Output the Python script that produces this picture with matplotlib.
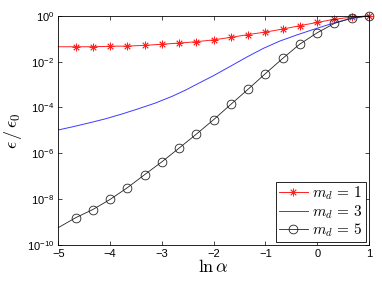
import matplotlib
matplotlib.use("Agg")
import matplotlib.pyplot as plt
import numpy as np

plt.rcParams['mathtext.fontset'] = 'cm'
plt.rcParams['font.family'] = ['Liberation Sans', 'DejaVu Sans']

# x positions (ln alpha) of sampled points
x_pts = [-5 + k / 3 for k in range(19)]
# log10 values
red_log = [-1.35, -1.35, -1.35, -1.33, -1.32, -1.29, -1.24, -1.19, -1.13, -1.05,
           -0.94, -0.82, -0.71, -0.58, -0.43, -0.29, -0.15, -0.06, 0.0]
black_log = [-9.24, -8.81, -8.45, -8.01, -7.50, -6.93, -6.37, -5.77, -5.16, -4.53,
             -3.86, -3.20, -2.52, -1.86, -1.23, -0.74, -0.33, -0.10, 0.0]
blue_x = [-5, -4.74, -4.42, -4.10, -3.78, -3.46, -3.13, -2.81, -2.55, -2.33, -2.01,
          -1.69, -1.36, -1.04, -0.72, -0.40, -0.08, 0.31, 0.63, 1]
blue_log = [-4.98, -4.85, -4.68, -4.50, -4.29, -4.06, -3.81, -3.52, -3.25, -2.99, -2.62,
            -2.22, -1.80, -1.42, -1.10, -0.84, -0.60, -0.32, -0.13, 0.0]

labels = [r'$m_d\,=\,1$', r'$m_d\,=\,3$', r'$m_d\,=\,5$']

fig = plt.figure(figsize=(3.82, 2.82), dpi=100)
ax = fig.add_axes([0.1526, 0.131, 0.8134, 0.813])

ax.plot(x_pts, 10 ** np.array(red_log), color='#ff2020', lw=0.7, marker=(8, 2, 0),
        ms=5.5, mew=0.6, markevery=range(1, 19), clip_on=False, label=labels[0])
ax.plot(blue_x, 10 ** np.array(blue_log), color='#3b3bff', lw=0.7, label=labels[1])
ax.plot(x_pts, 10 ** np.array(black_log), color='#222222', lw=0.6, marker='o',
        ms=6.3, mfc='none', mew=0.6, markevery=range(1, 19), clip_on=False, label=labels[2])

ax.set_yscale('log')
ax.set_xlim(-5, 1)
ax.set_ylim(1e-10, 1)
ax.set_xticks([-5, -4, -3, -2, -1, 0, 1])
ax.set_xticklabels(['\u22125', '\u22124', '\u22123', '\u22122', '\u22121', '0', '1'])
ax.set_yticks([10.0 ** e for e in range(-10, 1, 2)])
ax.set_yticklabels([r'$\mathregular{10^{%d}}$' % e if e == 0 else r'$\mathregular{10^{-%d}}$' % (-e)
                    for e in range(-10, 1, 2)])
ax.yaxis.set_minor_locator(matplotlib.ticker.NullLocator())
ax.tick_params(direction='in', top=True, right=True, labelsize=8, length=3, width=0.5, pad=3)
for s in ax.spines.values():
    s.set_linewidth(0.6)

ax.set_xlabel(r'$\ln\alpha$', fontsize=13, labelpad=0)
ax.set_ylabel(r'$\epsilon\,/\,\epsilon_0$', fontsize=13, labelpad=2)

leg = ax.legend(loc='lower right', fontsize=11, fancybox=False, edgecolor='black',
                framealpha=1, borderaxespad=0.2, handlelength=1.9, handletextpad=0.3,
                labelspacing=0.05, borderpad=0.2)
leg.get_frame().set_linewidth(0.6)

fig.savefig('out.png', dpi=100)
